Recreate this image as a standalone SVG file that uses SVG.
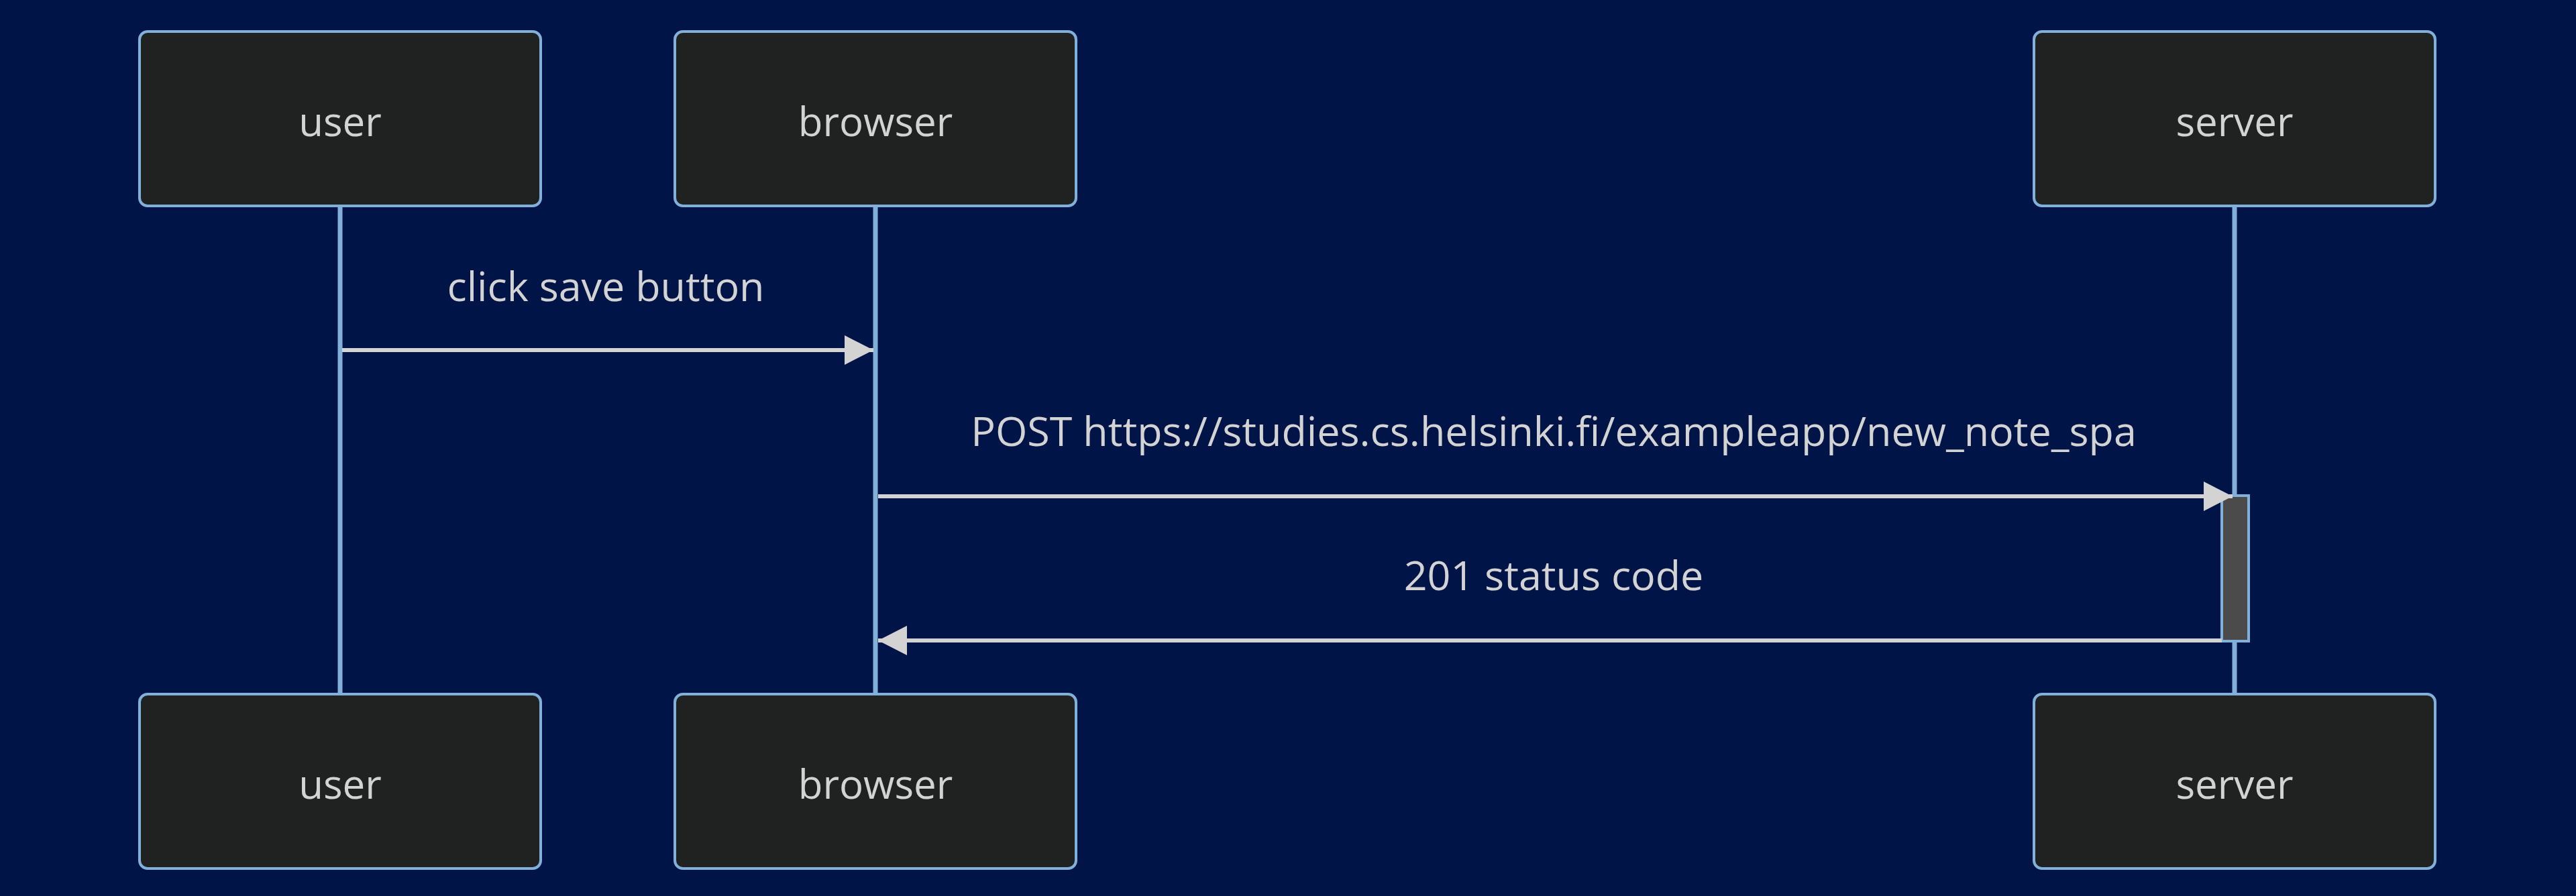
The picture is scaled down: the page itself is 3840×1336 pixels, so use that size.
<svg xmlns="http://www.w3.org/2000/svg" width="3840" height="1336" viewBox="0 0 3840 1336">
<defs>
<style>
.actor{fill:#202221;stroke:#81b1db;stroke-width:4}
.atext{fill:#d3d3d3;font-family:"Open Sans","Noto Sans",sans-serif;font-size:60px;text-anchor:middle;dominant-baseline:central}
.life{stroke:#81b1db;stroke-width:7}
.msg{stroke:#d3d3d3;stroke-width:6;fill:none}
.mtext{fill:#d3d3d3;font-family:"Open Sans","Noto Sans",sans-serif;font-size:61px;text-anchor:middle}
.act{fill:#4a4b4a;stroke:#81b1db;stroke-width:4}
</style>
<marker id="arrow" markerUnits="userSpaceOnUse" markerWidth="44" markerHeight="44" refX="43" refY="22" orient="auto">
<path d="M0,0 L43,22 L0,44 z" fill="#d3d3d3"/>
</marker>
</defs>
<rect x="0" y="0" width="3840" height="1336" fill="#001447"/>
<g id="lifelines">
<line class="life" x1="507" y1="307" x2="507" y2="1035"/>
<line class="life" x1="1305" y1="307" x2="1305" y2="1035"/>
<line class="life" x1="3331" y1="307" x2="3331" y2="1035"/>
</g>
<g id="user-top"><rect class="actor" x="208" y="47" width="598" height="260" rx="12"/><text class="atext" x="507" y="180">user</text></g>
<g id="browser-top"><rect class="actor" x="1006" y="47" width="598" height="260" rx="12"/><text class="atext" x="1305" y="180">browser</text></g>
<g id="server-top"><rect class="actor" x="3032" y="47" width="598" height="260" rx="12"/><text class="atext" x="3331" y="180">server</text></g>
<g id="user-bottom"><rect class="actor" x="208" y="1035" width="598" height="260" rx="12"/><text class="atext" x="507" y="1168">user</text></g>
<g id="browser-bottom"><rect class="actor" x="1006" y="1035" width="598" height="260" rx="12"/><text class="atext" x="1305" y="1168">browser</text></g>
<g id="server-bottom"><rect class="actor" x="3032" y="1035" width="598" height="260" rx="12"/><text class="atext" x="3331" y="1168">server</text></g>
<g id="activation"><rect class="act" x="3312" y="739" width="40" height="217"/></g>
<g id="connectors">
<text class="mtext" x="903" y="449">click save button</text>
<line class="msg" x1="510" y1="522" x2="1302" y2="522" marker-end="url(#arrow)"/>
<text class="mtext" x="2316" y="665">POST https://studies.cs.helsinki.fi/exampleapp/new_note_spa</text>
<line class="msg" x1="1309" y1="740" x2="3328" y2="740" marker-end="url(#arrow)"/>
<text class="mtext" x="2316" y="880">201 status code</text>
<line class="msg" x1="3312" y1="955" x2="1309" y2="955" marker-end="url(#arrow)"/>
</g>
</svg>
